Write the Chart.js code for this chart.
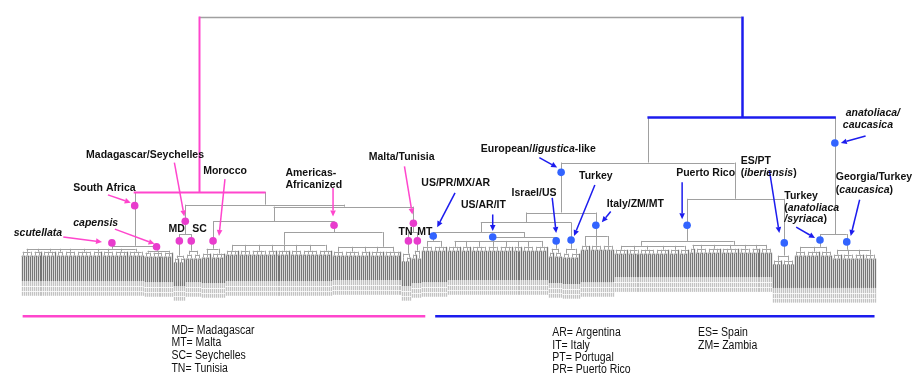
<!DOCTYPE html>
<html>
<head>
<meta charset="utf-8">
<script src="https://cdn.jsdelivr.net/npm/chart.js@4.4.1/dist/chart.umd.min.js"></script>
<style>
  html, body { margin: 0; padding: 0; background: #ffffff; }
  canvas { display: block; }
</style>
</head>
<body>
<canvas id="tree" width="917" height="377"></canvas>
<script>
// ---- Backbone of the dendrogram: leaf position (x) and linkage height (h) ----
const nodeNames  = ['root','P','Bl','SA','A','scut','cap','MDSC','B','MD','SC','C','MTN','Mor','Am','TN','MT','Am1','Am2',
                    'E','AC','F','G','F1','Ita','F2','TurM','USPR','F3','USARIT','Isr','PR','ESPT','TurA','Geo','PR1','PR2'];
const nodeParent = ['','root','root','P','P','SA','SA','A','A','MDSC','MDSC','B','B','C','C','MTN','MTN','Am','Am',
                    'Bl','Bl','E','E','F','F','F1','F1','F2','F2','F3','F3','G','G','AC','AC','PR','PR'];
const nodeX      = [226.25,89.5,363,57,122.5,45.5,68,82.5,162.5,79.5,85.5,127,197.5,96.5,157.5,195,199.5,132.5,182,
                    316,410,272,359.5,254.5,289.5,231.5,277,207.5,253.5,237.5,269.5,335.5,384.5,402.5,416,312.5,359];
const nodeH      = [1.385,0.49,0.87,0.215,0.425,0.20,0.19,0.275,0.415,0.165,0.19,0.34,0.285,0.20,0.285,0.175,0.19,0.22,0.21,
                    0.64,0.275,0.385,0.455,0.335,0.265,0.285,0.20,0.24,0.26,0.24,0.20,0.24,0.165,0.21,0.195,0.215,0.22];
const nodeTone   = ['g','p','b','g','g','g','g','g','g','g','g','g','g','g','g','g','g','g','g',
                    'g','g','g','g','g','g','g','g','g','g','g','g','g','g','g','g','g','g'];

// ---- Terminal clusters, left to right: parent node, sub-clade sizes (leaves), heights ----
const clusterNode   = ['scut','cap','MD','SC','Mor','Am1','Am2','TN','MT','USPR','USARIT','Isr','TurM','Ita','PR1','PR2','ESPT','TurA','Geo'];
const clusterGroups = [
  [6,5,7,4,6,8,5,6,7,8],
  [4,6,5],
  [3,3],
  [4,4],
  [5,7],
  [7,6,8,5,7,6,8,7],
  [6,8,5,7,9],
  [2,3],
  [3,2],
  [6,7],
  [7,5,8,6,7,5,6,7],
  [3,4],
  [4,5],
  [5,6,6],
  [7,6,8,7,5,5],
  [3,6,7,9,6,5,6],
  [5,6],
  [6,7,6],
  [5,6,5,6]
];
const clusterTop = [0.185,0.18,0.15,0.17,0.175,0.19,0.185,0.155,0.17,0.21,0.21,0.18,0.175,0.215,0.195,0.2,0.14,0.185,0.17];
const clusterTip = [0.035,0.03,0.01,0.03,0.025,0.035,0.04,0.01,0.025,0.03,0.04,0.025,0.02,0.03,0.055,0.055,0.0,0.0,0.0];

// ---- Highlighted clades (dots on branches) ----
const markNode = ['SA','scut','cap','MDSC','MD','SC','Mor','Am','MTN','TN','MT',
                  'F','AC','USPR','USARIT','Isr','TurM','Ita','PR','ESPT','TurA','Geo'];
const markH    = [0.42,0.23,0.21,0.34,0.24,0.24,0.24,0.32,0.33,0.24,0.24,
                  0.59,0.74,0.265,0.26,0.24,0.245,0.32,0.32,0.23,0.245,0.235];
const markTone = ['p','p','p','p','p','p','p','p','p','p','p',
                  'b','b','b','b','b','b','b','b','b','b','b'];

// ---- Clade labels ({...} = italic) ----
const labelText = ['{scutellata}','{capensis}','South Africa','Madagascar/Seychelles','Morocco','Americas-','Africanized',
                   'Malta/Tunisia','MD','SC','TN','MT','US/PR/MX/AR','US/AR/IT','Israel/US','Turkey',
                   'European/{ligustica}-like','Italy/ZM/MT','Puerto Rico','ES/PT','({iberiensis})',
                   '{anatoliaca/}','{caucasica}','Georgia/Turkey','({caucasica})','Turkey','({anatoliaca}','{/syriaca})'];
const labelX = [-4,26,26,32.5,91.5,133,133,175,74,86,190,199.5,201.5,221.5,247,281,
                231.5,295,330,362.5,362.5,415.5,414,410.5,410.5,384.5,384.5,384.5];
const labelH = [0.265,0.315,0.495,0.665,0.58,0.57,0.51,0.655,0.285,0.285,0.27,0.27,0.52,0.41,0.47,0.555,
                0.695,0.415,0.57,0.635,0.57,0.875,0.815,0.55,0.485,0.455,0.395,0.335];

// ---- Pointer arrows from labels to clades ----
const arrowX0 = [43.5,21,47,77,102.5,157,193, 218.5,237.5,267.5,289,297,261,333,377,425.5,390.5,422.5];
const arrowH0 = [0.475,0.26,0.30,0.64,0.555,0.51,0.62, 0.485,0.375,0.46,0.525,0.39,0.665,0.54,0.60,0.775,0.31,0.45];
const arrowX1 = [55,40.5,67,82,99.5,157,197, 209.5,237.5,269.5,278.5,292.5,270,333,382,413,400,418];
const arrowH1 = [0.435,0.235,0.225,0.365,0.265,0.365,0.375, 0.31,0.29,0.28,0.265,0.335,0.615,0.35,0.28,0.74,0.255,0.265];
const arrowTone = ['p','p','p','p','p','p','p','b','b','b','b','b','b','b','b','b','b','b'];

// ---- Lineage bars and abbreviation key ----
const barStart = [0.5, 208.5];
const barEnd   = [203.5, 430];
const barH     = -0.145;
const barTone  = ['p','b'];
const keyText = ['MD= Madagascar','MT= Malta','SC= Seychelles','TN= Tunisia',
                 'AR= Argentina','IT= Italy','PT= Portugal','PR= Puerto Rico','ES= Spain','ZM= Zambia'];
const keyX = [75.5,75.5,75.5,75.5,267.5,267.5,267.5,267.5,341,341];
const keyH = [-0.2325,-0.2975,-0.3625,-0.4275,-0.2475,-0.31,-0.3725,-0.435,-0.2475,-0.31];

// ---- styling ----
const TONE = { g: 'rgb(160,160,160)', p: 'rgb(255,70,205)', b: 'rgb(28,28,238)' };
const TONE_W = { g: 1, p: 2, b: 2.5 };
const DOT = { p: 'rgb(232,60,205)', b: 'rgb(50,100,255)' };
const LEAF = 'rgb(118,118,118)';
const TWIG = 'rgb(165,165,165)';
const BAND = 'rgb(195,195,195)';
const PAIR_DROP = 0.02;
const BAND_DEPTH = 0.075;
const LABEL_FONT = 'bold 10.5px "Liberation Sans", Arial, sans-serif';
const LABEL_ITALIC = 'italic bold 10.5px "Liberation Sans", Arial, sans-serif';

const idx = name => nodeNames.indexOf(name);

const treePlugin = {
  id: 'tree',
  beforeDatasetsDraw(chart) {
    const { ctx } = chart;
    const xs = chart.scales.x, ys = chart.scales.y;
    const X = v => xs.getPixelForValue(v);
    const Y = v => ys.getPixelForValue(v);
    const cr = p => Math.round(p) + 0.5;
    const line = (x1, y1, x2, y2, color, w) => {
      ctx.strokeStyle = color; ctx.lineWidth = w;
      ctx.beginPath(); ctx.moveTo(x1, y1); ctx.lineTo(x2, y2); ctx.stroke();
    };
    const vline = (x, h1, h2, color, w) => line(cr(X(x)), Y(h1), cr(X(x)), Y(h2), color, w);
    const hline = (x1, x2, h, color, w) => line(X(x1), cr(Y(h)), X(x2), cr(Y(h)), color, w);

    ctx.save();
    ctx.lineCap = 'butt';

    const kids = nodeNames.map(() => []);
    nodeParent.forEach((p, i) => { if (p) kids[idx(p)].push(nodeX[i]); });

    // leaves and their small sub-clades
    let leaf = 0;
    clusterGroups.forEach((groups, c) => {
      const n = idx(clusterNode[c]);
      const hTop = clusterTop[c], hPair = hTop - PAIR_DROP, hTip = clusterTip[c];
      const cStart = leaf;
      // tip label band under the leaves
      for (let j = cStart; j < cStart + groups.reduce((a, b) => a + b, 0); j++) {
        vline(j, hTip, hTip - BAND_DEPTH, BAND, 1.3);
      }
      groups.forEach(size => {
        const first = leaf, last = leaf + size - 1;
        const anchors = [];
        for (let j = first; j <= last; j += 2) {
          if (j + 1 <= last) {
            vline(j, hPair, hTip, LEAF, 1.3);
            vline(j + 1, hPair, hTip, LEAF, 1.3);
            hline(j, j + 1, hPair, TWIG, 1);
            vline(j + 0.5, hTop, hPair, TWIG, 1);
            anchors.push(j + 0.5);
          } else {
            vline(j, hTop, hTip, LEAF, 1.3);
            anchors.push(j);
          }
        }
        const a0 = anchors[0], a1 = anchors[anchors.length - 1];
        hline(a0, a1, hTop, TWIG, 1);
        const ga = (a0 + a1) / 2;
        vline(ga, nodeH[n], hTop, TONE.g, 1);
        kids[n].push(ga);
        leaf += size;
      });
      const y0 = Y(hTip);
      ctx.strokeStyle = 'rgba(255,255,255,0.8)'; ctx.lineWidth = 1;
      [5, 10].forEach(off => {
        ctx.beginPath(); ctx.moveTo(X(cStart - 0.5), Math.round(y0 + off) + 0.5);
        ctx.lineTo(X(leaf - 0.5), Math.round(y0 + off) + 0.5); ctx.stroke();
      });
    });

    // backbone: gray first, coloured lineages on top
    ['g', 'p', 'b'].forEach(tone => {
      nodeNames.forEach((name, i) => {
        const w = (name === 'root') ? 1.5 : TONE_W[nodeTone[i]];
        if (nodeTone[i] === tone && kids[i].length) {
          const lo = Math.min(...kids[i]), hi = Math.max(...kids[i]);
          const ext = (tone === 'g') ? 0 : 0.5;
          hline(lo - ext, hi + ext, nodeH[i], TONE[tone], w);
        }
        if (nodeParent[i] && nodeTone[i] === tone) {
          vline(nodeX[i], nodeH[idx(nodeParent[i])], nodeH[i], TONE[tone], TONE_W[tone]);
        }
      });
    });
    ctx.restore();
  }
};

const notePlugin = {
  id: 'notes',
  afterDatasetsDraw(chart) {
    const { ctx } = chart;
    const xs = chart.scales.x, ys = chart.scales.y;
    const X = v => xs.getPixelForValue(v);
    const Y = v => ys.getPixelForValue(v);
    ctx.save();

    // arrows
    arrowX0.forEach((_, k) => {
      const x0 = X(arrowX0[k]), y0 = Y(arrowH0[k]), x1 = X(arrowX1[k]), y1 = Y(arrowH1[k]);
      const col = TONE[arrowTone[k]];
      const ang = Math.atan2(y1 - y0, x1 - x0);
      const L = 6, W = 2.8;
      const bx = x1 - L * Math.cos(ang), by = y1 - L * Math.sin(ang);
      ctx.strokeStyle = col; ctx.lineWidth = 1.5;
      ctx.beginPath(); ctx.moveTo(x0, y0); ctx.lineTo(bx, by); ctx.stroke();
      ctx.fillStyle = col;
      ctx.beginPath();
      ctx.moveTo(x1, y1);
      ctx.lineTo(bx + W * Math.sin(ang), by - W * Math.cos(ang));
      ctx.lineTo(bx - W * Math.sin(ang), by + W * Math.cos(ang));
      ctx.closePath(); ctx.fill();
    });

    // labels
    ctx.fillStyle = '#111111';
    ctx.textBaseline = 'alphabetic';
    labelText.forEach((txt, k) => {
      let x = X(labelX[k]);
      const y = Y(labelH[k]);
      txt.split(/([{}])/).reduce((italic, part) => {
        if (part === '{') return true;
        if (part === '}') return false;
        if (!part) return italic;
        ctx.font = italic ? LABEL_ITALIC : LABEL_FONT;
        ctx.fillText(part, x, y);
        x += ctx.measureText(part).width;
        return italic;
      }, false);
    });

    // lineage bars
    barStart.forEach((s, k) => {
      ctx.strokeStyle = TONE[barTone[k]]; ctx.lineWidth = 2.5;
      ctx.beginPath(); ctx.moveTo(X(s), Y(barH)); ctx.lineTo(X(barEnd[k]), Y(barH)); ctx.stroke();
    });

    // abbreviation key (condensed lettering)
    ctx.font = '12.5px "Liberation Sans", Arial, sans-serif';
    ctx.fillStyle = '#111111';
    keyText.forEach((t, k) => {
      ctx.save();
      ctx.translate(X(keyX[k]), Y(keyH[k]));
      ctx.scale(0.84, 1);
      ctx.fillText(t, 0, 0);
      ctx.restore();
    });
    ctx.restore();
  }
};

const marks = markNode.map((n, k) => ({ x: nodeX[idx(n)], y: markH[k] }));

new Chart(document.getElementById('tree'), {
  type: 'scatter',
  data: {
    datasets: [{
      data: marks,
      pointRadius: 3.8,
      pointHoverRadius: 3.8,
      pointBackgroundColor: markTone.map(t => DOT[t]),
      pointBorderWidth: 0,
      clip: false
    }]
  },
  options: {
    responsive: false,
    animation: false,
    devicePixelRatio: 1,
    events: [],
    layout: { padding: 0 },
    plugins: { legend: { display: false }, tooltip: { enabled: false } },
    scales: {
      x: { type: 'linear', min: -9, max: 449.5, display: false },
      y: { type: 'linear', min: -0.435, max: 1.45, display: false }
    }
  },
  plugins: [treePlugin, notePlugin]
});
</script>
</body>
</html>
